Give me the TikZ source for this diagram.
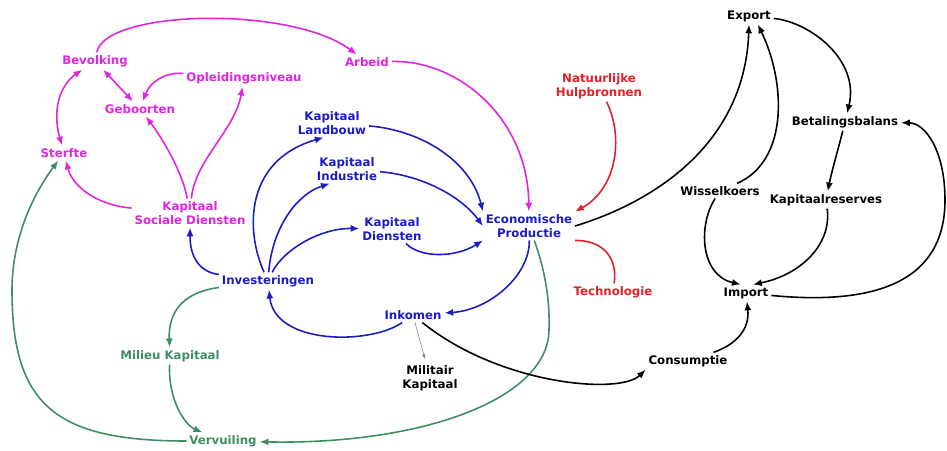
\documentclass[tikz,border=0pt]{standalone}
\usepackage{fontspec}
\setmainfont{DejaVu Sans}
\usepackage{tikz}
\usetikzlibrary{arrows.meta}
\usepackage{xcolor}
\definecolor{sdpink}{HTML}{E024E0}
\definecolor{sdblue}{HTML}{1C1CC4}
\definecolor{sdred}{HTML}{E32026}
\definecolor{sdgreen}{HTML}{3E8E63}

\begin{document}
\begin{tikzpicture}[
    x=0.02cm, y=-0.02cm,
    var/.style={font=\bfseries\fontsize{6.7}{7.9}\selectfont, align=center, inner sep=1.5pt},
    link/.style={line width=0.9pt, -{Latex[length=5pt,width=4pt]}},
    thinlink/.style={line width=0.3pt, draw=gray, -{Latex[length=2.5pt,width=2pt]}, shorten >=2pt}
]
    \useasboundingbox (0,0) rectangle (947,450);

    % Bevolking en sociale kant
    \node[var, text=sdpink] (bev)  at (95,61)   {Bevolking};
    \node[var, text=sdpink] (opl)  at (244,78)  {Opleidingsniveau};
    \node[var, text=sdpink] (geb)  at (140,109) {Geboorten};
    \node[var, text=sdpink] (ster) at (64,153)  {Sterfte};
    \node[var, text=sdpink] (ksd)  at (190,213) {Kapitaal\\Sociale Diensten};
    \node[var, text=sdpink] (arb)  at (367,62)  {Arbeid};

    % Kapitaal en productie
    \node[var, text=sdblue] (kl)  at (332,123) {Kapitaal\\Landbouw};
    \node[var, text=sdblue] (ki)  at (347,169) {Kapitaal\\Industrie};
    \node[var, text=sdblue] (kd)  at (392,229) {Kapitaal\\Diensten};
    \node[var, text=sdblue] (ep)  at (529,226) {Economische\\Productie};
    \node[var, text=sdblue] (inv) at (268,281) {Investeringen};
    \node[var, text=sdblue] (ink) at (413,315) {Inkomen};

    \node[var, text=sdred] (nat)  at (599,86)  {Natuurlijke\\Hulpbronnen};
    \node[var, text=sdred] (tech) at (613,292) {Technologie};

    \node[var, text=sdgreen] (mil)  at (170,356) {Milieu Kapitaal};
    \node[var, text=sdgreen] (verv) at (223,441) {Vervuiling};

    % Buitenland
    \node[var] (milk) at (430,378) {Militair\\Kapitaal};
    \node[var] (cons) at (688,361) {Consumptie};
    \node[var] (exp)  at (749,16)  {Export};
    \node[var] (bet)  at (845,122) {Betalingsbalans};
    \node[var] (wis)  at (720,191) {Wisselkoers};
    \node[var] (kres) at (826,200) {Kapitaalreserves};
    \node[var] (imp)  at (746,293) {Import};

    % Roze pijlen
    \draw[link, sdpink] (bev) .. controls (105,10) and (290,5) .. (arb);
    \draw[link, sdpink] (arb) .. controls (460,60) and (528,120) .. (ep);
    \draw[link, sdpink, {Latex[length=5pt,width=4pt]}-{Latex[length=5pt,width=4pt]}] (bev) -- (geb);
    \draw[link, sdpink] (opl) .. controls (165,72) and (150,82) .. (geb);
    \draw[link, sdpink, {Latex[length=5pt,width=4pt]}-{Latex[length=5pt,width=4pt]}] (ster) .. controls (52,110) and (60,85) .. (bev);
    \draw[link, sdpink] (ksd) .. controls (95,205) and (72,185) .. (ster);
    \draw[link, sdpink] (ksd) .. controls (182,170) and (160,135) .. (geb);
    \draw[link, sdpink] (ksd) .. controls (195,160) and (235,130) .. (opl);

    % Blauwe pijlen
    \draw[link, sdblue] (inv) .. controls (200,272) and (190,258) .. (ksd);
    \draw[link, sdblue] (inv) .. controls (245,230) and (245,160) .. (kl.240);
    \draw[link, sdblue] (inv) .. controls (272,230) and (295,195) .. (ki.220);
    \draw[link, sdblue] (inv) .. controls (283,250) and (320,228) .. (kd);
    \draw[link, sdblue] (kl) .. controls (420,130) and (470,160) .. (ep.north west);
    \draw[link, sdblue] (ki) .. controls (420,175) and (460,195) .. (ep.west);
    \draw[link, sdblue] (kd) .. controls (420,258) and (455,258) .. (ep.south west);
    \draw[link, sdblue] (ep) .. controls (530,275) and (490,310) .. (ink);
    \draw[link, sdblue] (ink) .. controls (370,345) and (275,345) .. (inv);

    % Groene pijlen
    \draw[link, sdgreen] (ep) .. controls (545,270) and (550,300) .. (549,330)
        .. controls (548,400) and (420,445) .. (verv);
    \draw[link, sdgreen] (inv) .. controls (185,292) and (168,310) .. (mil);
    \draw[link, sdgreen] (mil) .. controls (168,400) and (185,425) .. (verv);
    \draw[link, sdgreen] (verv) .. controls (55,441) and (12,405) .. (12,290)
        .. controls (12,230) and (40,185) .. (ster);

    % Rode pijlen
    \draw[link, sdred] (nat) .. controls (625,140) and (615,190) .. (ep.north east);
    \draw[line width=0.9pt, sdred] (tech) .. controls (618,255) and (600,240) .. (ep.south east);

    % Zwarte pijlen
    \draw[link] (ep.east) .. controls (660,200) and (745,140) .. (exp.south);
    \draw[link] (wis) .. controls (790,160) and (785,80) .. ([xshift=5pt]exp.south);
    \draw[link] (exp) .. controls (810,22) and (860,60) .. (bet);
    \draw[link] (bet) .. controls (838,150) and (832,170) .. (kres);
    \draw[link] (imp) .. controls (870,305) and (945,285) .. (945,200)
        .. controls (945,150) and (925,123) .. (bet);
    \draw[link] (wis) .. controls (698,225) and (700,275) .. ([xshift=-3pt]imp.north);
    \draw[link] (kres) .. controls (832,245) and (800,275) .. ([xshift=4pt]imp.north);
    \draw[link] (cons) .. controls (735,345) and (750,330) .. (imp);
    \draw[link] (ink) .. controls (500,385) and (620,395) .. (cons.south west);
    \draw[thinlink] (ink) -- (milk);
\end{tikzpicture}
\end{document}
